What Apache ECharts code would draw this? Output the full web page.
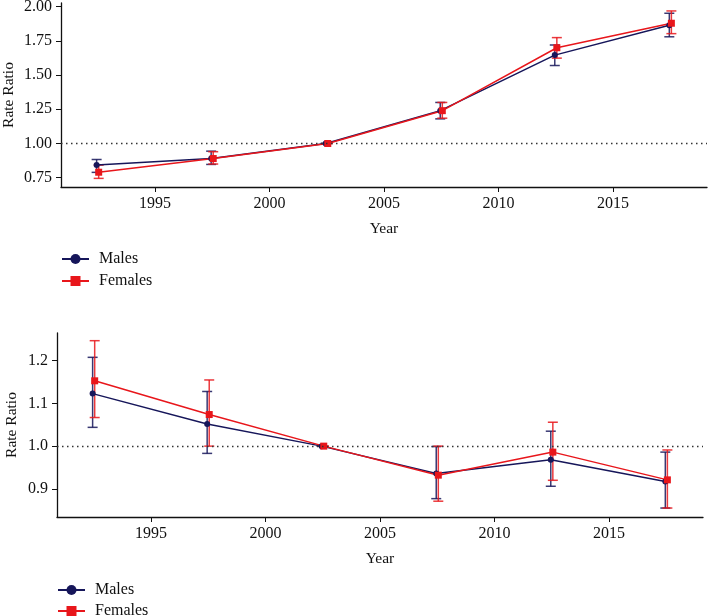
<!DOCTYPE html>
<html lang="en">
<head>
<meta charset="UTF-8">
<title>Rate Ratio by Year</title>
<style>
  html, body { margin: 0; padding: 0; background: #fff; }
  #chart { width: 708px; height: 616px; }
</style>
</head>
<body>
<div id="chart"></div>
<script src="https://cdn.jsdelivr.net/npm/echarts@6/dist/echarts.min.js"></script>
<script>
// period mid-points
var years = [1992.5, 1997.5, 2002.5, 2007.5, 2012.5, 2017.5];
var yearTicks = [1995, 2000, 2005, 2010, 2015];

// top panel
var malesA = [0.842, 0.890, 1.000, 1.240, 1.646, 1.864];
var malesALo = [0.789, 0.847, 1.000, 1.180, 1.570, 1.780];
var malesAHi = [0.883, 0.944, 1.000, 1.300, 1.720, 1.952];
var femalesA = [0.790, 0.890, 1.000, 1.240, 1.700, 1.879];
var femalesALo = [0.745, 0.850, 1.000, 1.185, 1.624, 1.803];
var femalesAHi = [0.842, 0.940, 1.000, 1.300, 1.774, 1.969];
var ticksA = [0.75, 1.00, 1.25, 1.50, 1.75, 2.00];

// bottom panel
var malesB = [1.123, 1.052, 1.000, 0.936, 0.968, 0.917];
var malesBLo = [1.044, 0.983, 1.000, 0.877, 0.906, 0.855];
var malesBHi = [1.208, 1.128, 1.000, 0.999, 1.035, 0.986];
var femalesB = [1.153, 1.074, 1.000, 0.932, 0.986, 0.921];
var femalesBLo = [1.067, 1.000, 1.000, 0.871, 0.920, 0.855];
var femalesBHi = [1.247, 1.155, 1.000, 1.000, 1.056, 0.991];
var ticksB = [0.9, 1.0, 1.1, 1.2];

var NAVY = '#16165a';
var RED = '#e8161b';
var FONT = 'Liberation Serif';
var DODGE = 0.045;

function pts(vals, off) {
  return years.map(function (y, i) { return [y + off, vals[i]]; });
}
function bars(lo, hi, off) {
  return years.map(function (y, i) { return [y + off, lo[i], hi[i]]; });
}

function errorSeries(name, data, color, idx) {
  return {
    name: name,
    type: 'custom',
    xAxisIndex: idx,
    yAxisIndex: idx,
    data: data,
    z: 3,
    renderItem: function (params, api) {
      var x = api.value(0);
      var lo = api.coord([x, api.value(1)]);
      var hi = api.coord([x, api.value(2)]);
      var w = 5;
      var st = { stroke: color, lineWidth: 1.5, opacity: 0.85 };
      return {
        type: 'group',
        children: [
          { type: 'line', shape: { x1: lo[0], y1: lo[1], x2: hi[0], y2: hi[1] }, style: st },
          { type: 'line', shape: { x1: lo[0] - w, y1: lo[1], x2: lo[0] + w, y2: lo[1] }, style: st },
          { type: 'line', shape: { x1: hi[0] - w, y1: hi[1], x2: hi[0] + w, y2: hi[1] }, style: st }
        ]
      };
    }
  };
}

function lineSeries(name, data, color, symbol, size, idx, withRef) {
  var s = {
    name: name,
    type: 'line',
    xAxisIndex: idx,
    yAxisIndex: idx,
    data: data,
    symbol: symbol,
    symbolSize: size,
    showAllSymbol: true,
    itemStyle: { color: color },
    lineStyle: { color: color, width: 1.5 },
    z: 4,
    animation: false
  };
  if (withRef) {
    s.markLine = {
      silent: true,
      symbol: 'none',
      label: { show: false },
      lineStyle: { color: '#333', type: [1.5, 3.5], width: 1.3 },
      data: [{ yAxis: 1 }],
      animation: false
    };
  }
  return s;
}

function xAxis(idx) {
  return {
    type: 'value',
    gridIndex: idx,
    min: 1990.9,
    max: 2019.1,
    name: 'Year',
    nameLocation: 'middle',
    nameGap: 34,
    nameTextStyle: { fontFamily: FONT, fontSize: 15.5, color: '#111' },
    axisLine: { show: true, lineStyle: { color: '#111', width: 1.3 } },
    axisTick: { show: true, length: 5, customValues: yearTicks, lineStyle: { color: '#111' } },
    axisLabel: {
      customValues: yearTicks, margin: 9, fontFamily: FONT, fontSize: 16, color: '#111',
      formatter: function (v) { return String(v); }
    },
    splitLine: { show: false }
  };
}

function yAxis(idx, min, max, ticks, digits) {
  return {
    type: 'value',
    gridIndex: idx,
    min: min,
    max: max,
    name: 'Rate Ratio',
    nameLocation: 'middle',
    nameGap: idx === 0 ? 44 : 37,
    nameMoveOverlap: false,
    nameTextStyle: { fontFamily: FONT, fontSize: 15.5, color: '#111' },
    axisLine: { show: true, lineStyle: { color: '#111', width: 1.3 } },
    axisTick: { show: true, length: 5, customValues: ticks, lineStyle: { color: '#111' } },
    axisLabel: {
      customValues: ticks, margin: 9, fontFamily: FONT, fontSize: 16, color: '#111',
      formatter: function (v) { return v.toFixed(digits); }
    },
    splitLine: { show: false }
  };
}

function legend(left, top, gap) {
  return {
    data: ['Males', 'Females'],
    orient: 'vertical',
    left: left,
    top: top,
    height: 60,
    padding: 0,
    itemWidth: 27,
    itemHeight: 12.5,
    itemGap: gap,
    textStyle: { fontFamily: FONT, fontSize: 16, color: '#111', padding: [0, 0, 0, 5] }
  };
}

var chart = echarts.init(document.getElementById('chart'));
chart.setOption({
  animation: false,
  backgroundColor: '#fff',
  grid: [
    { left: 61, right: 1, top: 3, height: 184, outerBoundsMode: 'none' },
    { left: 57, right: 5, top: 333, height: 184, outerBoundsMode: 'none' }
  ],
  xAxis: [xAxis(0), xAxis(1)],
  yAxis: [
    yAxis(0, 0.682, 2.027, ticksA, 2),
    yAxis(1, 0.834, 1.265, ticksB, 1)
  ],
  legend: [legend(61, 251, 6), legend(57, 582, 5)],
  series: [
    errorSeries('Males CI', bars(malesALo, malesAHi, -DODGE), NAVY, 0),
    lineSeries('Males', pts(malesA, -DODGE), NAVY, 'circle', 6, 0, true),
    errorSeries('Females CI', bars(femalesALo, femalesAHi, DODGE), RED, 0),
    lineSeries('Females', pts(femalesA, DODGE), RED, 'rect', 7, 0, false),
    errorSeries('Males CI', bars(malesBLo, malesBHi, -DODGE), NAVY, 1),
    lineSeries('Males', pts(malesB, -DODGE), NAVY, 'circle', 6, 1, true),
    errorSeries('Females CI', bars(femalesBLo, femalesBHi, DODGE), RED, 1),
    lineSeries('Females', pts(femalesB, DODGE), RED, 'rect', 7, 1, false)
  ]
});
window.addEventListener('resize', function () {
  chart.resize();
});
</script>
</body>
</html>
